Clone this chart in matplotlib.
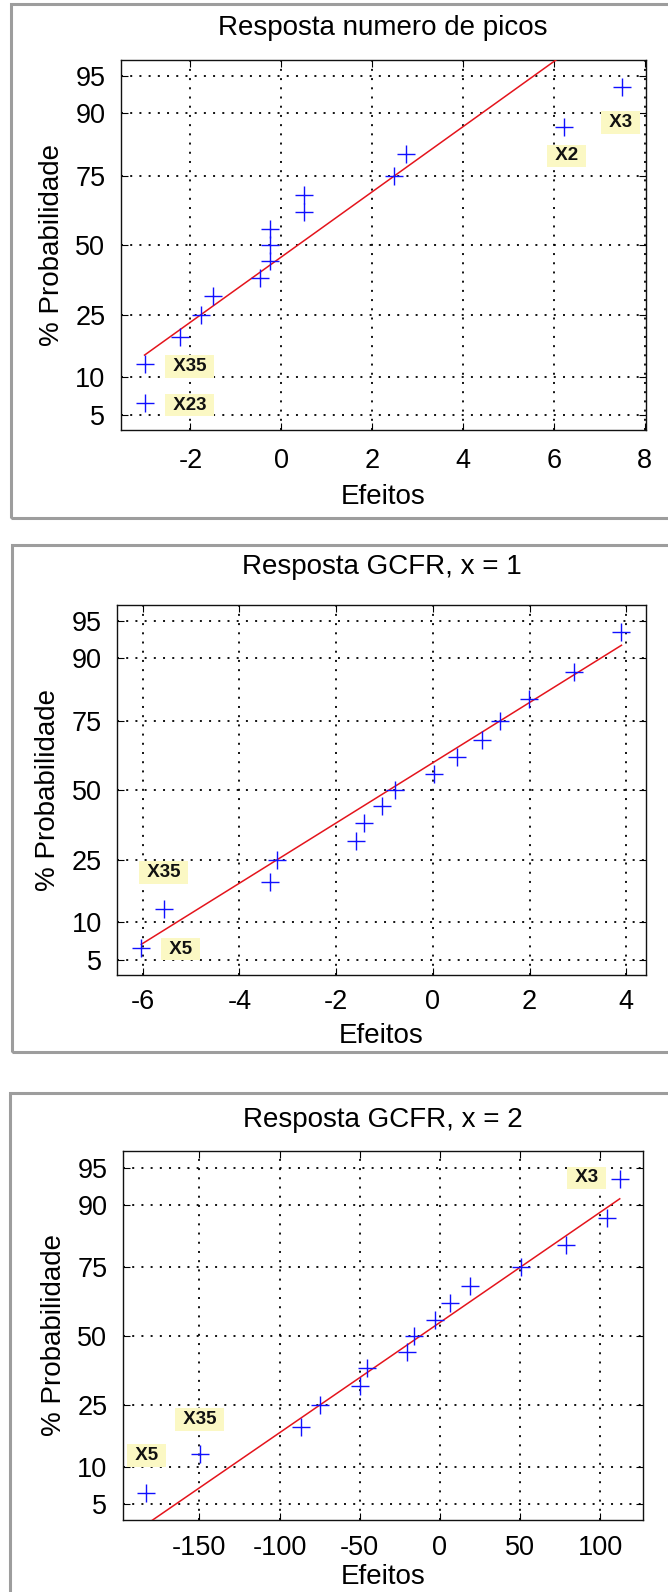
import numpy as np
import matplotlib
matplotlib.use("Agg")
import matplotlib.pyplot as plt
from matplotlib.patches import Rectangle
from statistics import NormalDist

plt.rcParams['font.family'] = ['Liberation Sans', 'DejaVu Sans']
plt.rcParams['axes.unicode_minus'] = False

# ---------------------------------------------------------------- data
# cumulative probability (%) of each ordered effect
prob_pct = [6.25, 12.5, 18.75, 25.0, 31.25, 37.5, 43.75, 50.0,
            56.25, 62.5, 68.75, 75.0, 81.25, 87.5, 93.75]

# ordered effects of each response
effects_picos = [-3.01, -3.01, -2.23, -1.77, -1.51, -0.47, -0.26, -0.26,
                 -0.26, 0.50, 0.50, 2.49, 2.75, 6.23, 7.49]
effects_gcfr1 = [-6.03, -5.57, -3.36, -3.22, -1.60, -1.43, -1.05, -0.78,
                 0.03, 0.49, 1.01, 1.39, 1.99, 2.91, 3.90]
effects_gcfr2 = [-183.0, -149.8, -86.6, -74.7, -50.1, -45.6, -20.4, -16.4,
                 -3.2, 6.1, 18.5, 50.4, 78.4, 104.2, 112.1]

titles = ["Resposta numero de picos", "Resposta GCFR, x = 1", "Resposta GCFR, x = 2"]
xticks_picos = [-2, 0, 2, 4, 6, 8]
xticks_gcfr1 = [-6, -4, -2, 0, 2, 4]
xticks_gcfr2 = [-150, -100, -50, 0, 50, 100]
prob_ticks = [5, 10, 25, 50, 75, 90, 95]

# significant effects: (position in the ordered list, name)
names_picos = [(0, "X23"), (1, "X35"), (13, "X2"), (14, "X3")]
names_gcfr1 = [(0, "X5"), (1, "X35")]
names_gcfr2 = [(0, "X5"), (1, "X35"), (14, "X3")]

# ---------------------------------------------------------------- normal probability scale
_nd = NormalDist()
_inv = np.vectorize(_nd.inv_cdf, otypes=[float])
_cdf = np.vectorize(_nd.cdf, otypes=[float])


def pct_to_z(p):
    q = np.asarray(p, dtype=float) / 100.0
    bad = ~np.isfinite(q)
    q = np.clip(np.where(bad, 0.5, q), 1e-9, 1 - 1e-9)
    z = _inv(q)
    return np.where(bad, np.nan, z)


def z_to_pct(z):
    return _cdf(np.asarray(z, dtype=float)) * 100.0


# ---------------------------------------------------------------- layout (pixels)
W, H = 668, 1592
fig = plt.figure(figsize=(W / 100, H / 100), dpi=100)
fig.patch.set_facecolor('white')

panels = [
    dict(effects=effects_picos, xticks=xticks_picos, names=names_picos,
         box=(120.7, 645.5, 60, 430), frame=(10.7, 4, 740, 518),
         title_pad=18, xtick_pad=13, xlabel_off=67, zlim=(-1.795, 1.80),
         offsets={0: (45, -2), 1: (45, -3), 13: (2, -29), 14: (-1, -35)}),
    dict(effects=effects_gcfr1, xticks=xticks_gcfr1, names=names_gcfr1,
         box=(117.3, 645.5, 605, 975), frame=(11.7, 544.7, 740, 1052),
         title_pad=22, xtick_pad=10, xlabel_off=61, zlim=(-1.795, 1.80),
         offsets={0: (39, -1), 1: (0, 36)}),
    dict(effects=effects_gcfr2, xticks=xticks_gcfr2, names=names_gcfr2,
         box=(122.7, 643.4, 1150.7, 1520), frame=(10.0, 1092.7, 740, 1700),
         title_pad=17, xtick_pad=11, xlabel_off=57, zlim=(-1.80, 1.81),
         offsets={0: (0, 37), 1: (0, 34), 14: (-33, 1)}),
]

PX2PT = 72.0 / 100.0
blue = '#1010ff'
red = '#e4141c'
note_bg = '#fbf8c4'

for title, pn in zip(titles, panels):
    # grey frame around each panel
    fl, ft, fr, fb = pn['frame']
    fig.add_artist(Rectangle((fl / W, 1 - fb / H), (fr - fl) / W, (fb - ft) / H,
                             transform=fig.transFigure, fill=False,
                             edgecolor='#9d9d9d', linewidth=2.2, zorder=0))

    l, r, t, b = pn['box']
    ax = fig.add_axes([l / W, 1 - b / H, (r - l) / W, (b - t) / H])
    ax.set_yscale('function', functions=(pct_to_z, z_to_pct))

    eff = np.asarray(pn['effects'], dtype=float)
    prob = np.asarray(prob_pct, dtype=float)

    # reference line through the quartile points, spanning the data range
    q1 = np.interp(25.0, prob, eff)
    q3 = np.interp(75.0, prob, eff)
    z1, z3 = float(pct_to_z(25.0)), float(pct_to_z(75.0))
    slope = (z3 - z1) / (q3 - q1)
    xl = np.array([eff.min(), eff.max()])
    zl = z1 + slope * (xl - q1)
    ax.plot(xl, z_to_pct(zl), color=red, linewidth=1.1, zorder=3)

    ax.plot(eff, prob, linestyle='none', marker='+', markersize=12.5,
            markeredgewidth=1.0, color=blue, zorder=4)

    rng = eff.max() - eff.min()
    ax.set_xlim(eff.min() - 0.05 * rng, eff.max() + 0.05 * rng)
    zlo, zhi = pn['zlim']
    ax.set_ylim(float(z_to_pct(zlo)), float(z_to_pct(zhi)))

    ax.set_xticks(pn['xticks'])
    ax.set_xticklabels([str(v) for v in pn['xticks']])
    ax.set_yticks(prob_ticks)
    ax.set_yticklabels([str(v) for v in prob_ticks])
    ax.minorticks_off()

    ax.tick_params(axis='both', which='major', direction='in', length=4.8,
                   width=0.8, top=True, right=True, labelsize=19.5, color='black')
    ax.tick_params(axis='x', pad=pn['xtick_pad'])
    ax.tick_params(axis='y', pad=11)
    for s in ax.spines.values():
        s.set_linewidth(1.0)
        s.set_color('#111111')

    ax.grid(True, color='black', linestyle=(0, (1.1, 4.0)), linewidth=1.3)
    ax.set_axisbelow(True)

    ax.set_title(title, fontsize=20, pad=pn['title_pad'])

    hpx = b - t
    wpx = r - l
    ax.set_xlabel('Efeitos', fontsize=20)
    ax.xaxis.label.set_va('center')
    ax.xaxis.set_label_coords(0.5, -pn['xlabel_off'] / hpx)
    ax.set_ylabel('% Probabilidade', fontsize=20)
    ax.yaxis.label.set_va('center')
    ax.yaxis.label.set_ha('center')
    ax.yaxis.set_label_coords(-69 / wpx, 0.5)

    for idx, name in pn['names']:
        dx, dy = pn['offsets'][idx]
        ax.annotate(' ' + name + ' ', xy=(eff[idx], prob[idx]),
                    xytext=(dx * PX2PT, dy * PX2PT), textcoords='offset points',
                    ha='center', va='center', fontsize=13.5, fontweight='bold',
                    color='#111111', zorder=5,
                    bbox=dict(boxstyle='square,pad=0.15', facecolor=note_bg,
                              edgecolor='none'))

fig.savefig('out.png', dpi=100, facecolor='white')
